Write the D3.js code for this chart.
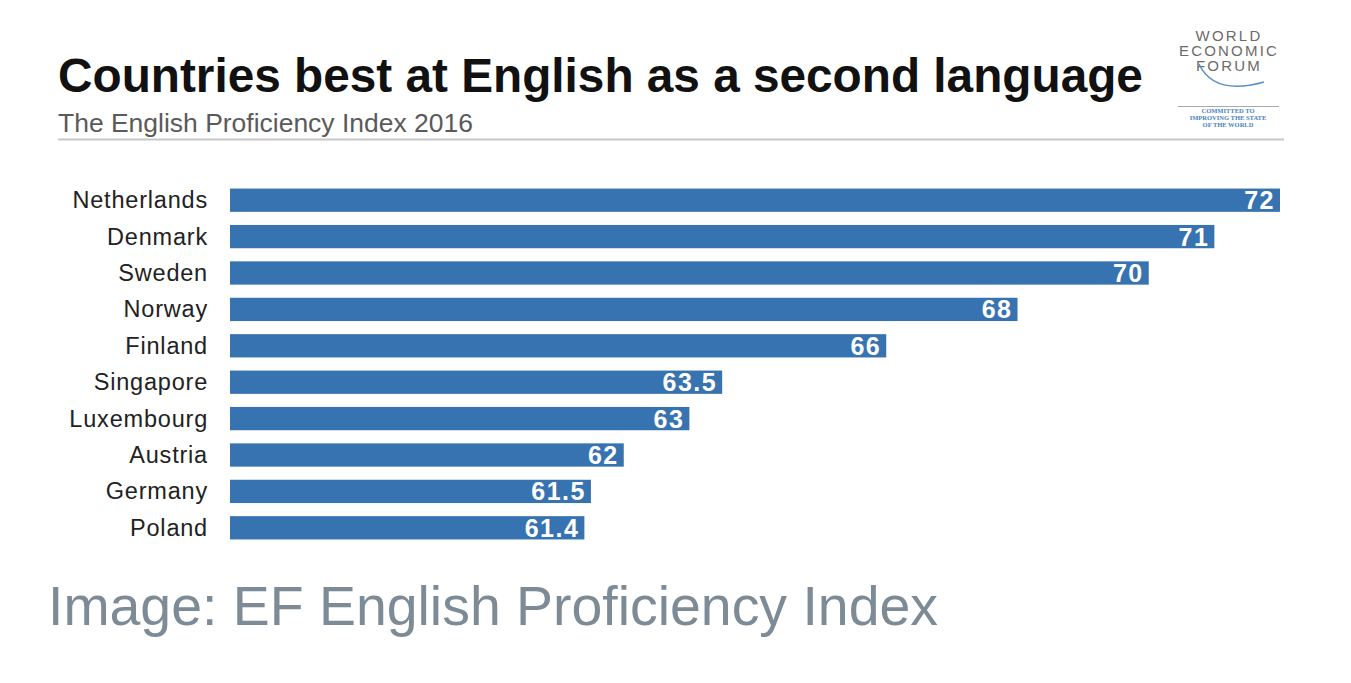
<!DOCTYPE html>
<html>
<head>
<meta charset="utf-8">
<script src="https://cdn.jsdelivr.net/npm/d3@7"></script>
<style>
  html, body { margin: 0; padding: 0; background: #fff; }
  svg { display: block; }
</style>
</head>
<body>
<div id="chart"></div>
<script>
const countries = ['Netherlands', 'Denmark', 'Sweden', 'Norway', 'Finland',
  'Singapore', 'Luxembourg', 'Austria', 'Germany', 'Poland'];
const scores = [72, 71, 70, 68, 66, 63.5, 63, 62, 61.5, 61.4];
const scoreLabels = ['72', '71', '70', '68', '66', '63.5', '63', '62', '61.5', '61.4'];
const xDomain = [56, 72];

const W = 1351, H = 683;
const FONT = "'Liberation Sans', Arial, Helvetica, sans-serif";
const BLUE = '#3873b1';

const svg = d3.select('#chart').append('svg').attr('width', W).attr('height', H);

// shrink/grow a text node so it spans the given width
function fitWidth(sel, target) {
  const node = sel.node();
  const w = node.getComputedTextLength();
  const fs = parseFloat(sel.attr('font-size'));
  sel.attr('font-size', (fs * target / w).toFixed(2));
}

// header
const title = svg.append('text')
  .attr('x', 58).attr('y', 92)
  .attr('font-family', FONT).attr('font-weight', 'bold').attr('font-size', 44)
  .attr('fill', '#111')
  .text('Countries best at English as a second language');
fitWidth(title, 1085);

const sub = svg.append('text')
  .attr('x', 58).attr('y', 132)
  .attr('font-family', FONT).attr('font-size', 22)
  .attr('fill', '#5a5a5a')
  .text('The English Proficiency Index 2016');
fitWidth(sub, 415);

svg.append('line')
  .attr('x1', 58).attr('x2', 1284).attr('y1', 139.5).attr('y2', 139.5)
  .attr('stroke', '#c8c8c8').attr('stroke-width', 2);

// WEF logo
const logo = svg.append('g').attr('font-family', FONT).attr('text-anchor', 'middle');
[['WORLD', 41], ['ECONOMIC', 56], ['FORUM', 71]].forEach(([t, y]) => {
  logo.append('text').attr('x', 1229).attr('y', y)
    .attr('font-size', 15).attr('letter-spacing', 2.2)
    .attr('fill', '#6b6b6b').text(t);
});
logo.append('path')
  .attr('d', 'M1199,64 Q1214,96 1264,82')
  .attr('fill', 'none').attr('stroke', '#5b8fc4').attr('stroke-width', 1.5);
logo.append('line')
  .attr('x1', 1178).attr('x2', 1279).attr('y1', 106.5).attr('y2', 106.5)
  .attr('stroke', '#aaa').attr('stroke-width', 1);
[['COMMITTED TO', 113], ['IMPROVING THE STATE', 120], ['OF THE WORLD', 127]].forEach(([t, y]) => {
  logo.append('text').attr('x', 1228).attr('y', y)
    .attr('font-family', "'Liberation Serif', serif")
    .attr('font-size', 6.5).attr('font-weight', 'bold').attr('fill', '#4a7fbf').text(t);
});

// bars
const x = d3.scaleLinear().domain(xDomain).range([230, 1280]);
const y = d3.scaleBand().domain(countries).range([182, 546])
  .paddingInner(0.36).paddingOuter(0.18);

const rows = svg.append('g').selectAll('g')
  .data(countries.map((c, i) => ({ c, v: scores[i], label: scoreLabels[i] })))
  .join('g');

rows.append('rect')
  .attr('x', x(xDomain[0]))
  .attr('y', d => y(d.c))
  .attr('width', d => x(d.v) - x(xDomain[0]))
  .attr('height', y.bandwidth())
  .attr('fill', BLUE);

rows.append('text')
  .attr('x', d => x(d.v) - 5)
  .attr('y', d => y(d.c) + y.bandwidth() / 2 + 9)
  .attr('text-anchor', 'end')
  .attr('font-family', FONT).attr('font-weight', 'bold').attr('font-size', 25)
  .attr('letter-spacing', 1.5)
  .attr('fill', '#fff')
  .text(d => d.label);

rows.append('text')
  .attr('x', 208)
  .attr('y', d => y(d.c) + y.bandwidth() / 2 + 8)
  .attr('text-anchor', 'end')
  .attr('font-family', FONT).attr('font-size', 23.5)
  .attr('letter-spacing', 0.8)
  .attr('fill', '#222')
  .text(d => d.c);

// source caption
const cap = svg.append('text')
  .attr('x', 48).attr('y', 625)
  .attr('font-family', FONT).attr('font-size', 54)
  .attr('fill', '#7d8b97')
  .text('Image: EF English Proficiency Index');
fitWidth(cap, 890);
</script>
</body>
</html>
